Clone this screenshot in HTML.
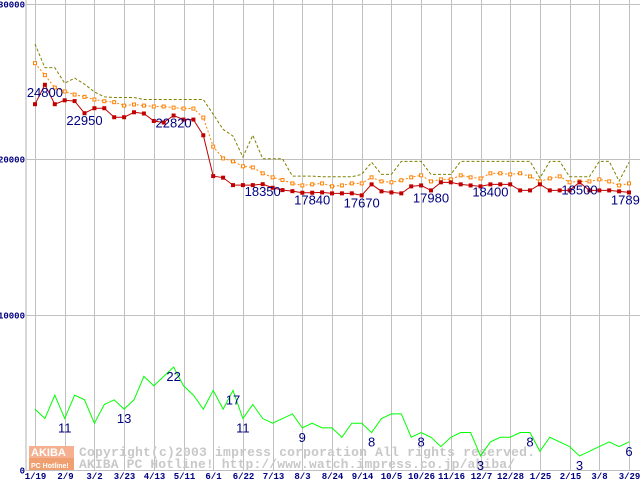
<!DOCTYPE html>
<html><head><meta charset="utf-8"><style>
html,body{margin:0;padding:0;background:#fff;width:640px;height:480px;overflow:hidden}
svg{display:block}
.tk{font-family:"Liberation Mono",monospace;font-size:9px;font-weight:bold;fill:#000080}
.lb{font-family:"Liberation Sans",sans-serif;font-size:13px;fill:#000080}
.wm{font-family:"Liberation Mono",monospace;font-size:13px;font-weight:bold;fill:#c8c8c8}
</style></head><body>
<svg id="chart" width="640" height="480">
<g id="grid"></g>
<g id="wm">
<rect x="29" y="446" width="45" height="12" fill="#f4b090"/>
<rect x="29" y="458" width="45" height="12" fill="#f0a070"/>
<text x="31" y="456" font-family="Liberation Sans,sans-serif" font-weight="bold" font-size="11" fill="#fff">AKIBA</text>
<text x="31" y="468" font-family="Liberation Sans,sans-serif" font-weight="bold" font-size="7" fill="#fff">PC Hotline!</text>
<text class="wm" x="79" y="456" textLength="456">Copyright(c)2003 impress corporation All rights reserved.</text>
<text class="wm" x="79" y="468" textLength="436">AKIBA PC Hotline!  http://www.watch.impress.co.jp/akiba/</text>
</g>
<g id="series"></g>
<g id="labels"></g>
</svg>
<script>
const xLabels=["1/19","2/9","3/2","3/23","4/13","5/11","6/1","6/22","7/13","8/3","8/24","9/14","10/5","10/26","11/16","12/7","12/28","1/25","2/15","3/8","3/29"];
const yTicks=[0,10000,20000,30000];
const maxPrice=[27420,25900,25900,24900,25230,24840,24340,24020,23980,23980,23980,23850,23850,23850,23850,23850,23850,23850,22900,21930,21500,20150,21550,20040,20040,20040,18920,18920,18920,18880,18880,18880,18880,19030,19810,19030,19030,19870,19870,19870,19030,19030,19030,19870,19870,19870,19870,19870,19870,19870,19870,18800,19870,19870,18880,18880,18880,19870,19870,18600,19810];
const avgPrice=[26190,25420,24620,24370,24170,24020,23850,23740,23680,23460,23530,23460,23400,23400,23330,23270,23270,22690,20820,20060,19870,19550,19480,19100,18840,18670,18450,18320,18390,18450,18260,18320,18450,18450,18840,18580,18520,18650,18840,18970,18580,18710,18710,18970,18840,18770,19100,19100,19030,19100,18900,18580,18770,18900,18520,18580,18580,18710,18580,18320,18450];
const minPrice=[23550,24800,23550,23800,23750,22970,23290,23290,22710,22710,23030,22950,22470,22370,22820,22560,22560,21550,18920,18820,18340,18340,18340,18400,18170,18020,17950,17850,17850,17870,17810,17810,17810,17680,18390,17940,17870,17810,18260,18320,18000,18520,18520,18390,18320,18260,18390,18390,18390,18000,18000,18390,18000,18000,18000,18520,18000,18000,18000,17940,17870];
const shopCount=[13,11,16,11,16,15,10,14,15,13,15,20,18,20,22,18,16,13,17,13,17,11,14,11,10,11,12,9,10,9,9,7,10,10,8,11,12,12,7,8,7,5,7,8,8,3,6,7,7,8,8,4,7,6,5,3,4,5,6,5,6];
const priceLabelIdx=[1,5,14,23,28,33,40,46,55,60];
const priceLabelVal=["24800","22950","22820","18350","17840","17670","17980","18400","18500","17890"];
const countLabelIdx=[3,9,14,20,21,27,34,39,45,50,55,60];
const countLabelVal=["11","13","22","17","11","9","8","8","3","8","3","6"];

const NS="http://www.w3.org/2000/svg";
const X0=35,DX=9.9,Y0=470,PY=466/30000,CY=4.68;
const xi=i=>X0+i*DX;
const yp=v=>Y0-v*PY;
const yc=c=>Y0-c*CY;
function mk(tag,attrs,parent){const e=document.createElementNS(NS,tag);for(const k in attrs)e.setAttribute(k,attrs[k]);parent.appendChild(e);return e;}
const grid=document.getElementById('grid'),ser=document.getElementById('series'),lab=document.getElementById('labels');
let e;
e=mk('line',{x1:26,y1:0,x2:26,y2:Y0,stroke:'#b0b0b0'},grid);


yTicks.forEach(t=>{
 const y=Math.round(yp(t))+0.5;
 if(t>0){const l=mk('line',{x1:26,y1:y,x2:640,y2:y,stroke:'#c0c0c0'},grid);
 
 }
 const tx=mk('text',{class:'tk',x:25,y:y+3,'text-anchor':'end'},grid);tx.textContent=String(t);
 
 
});
e=mk('line',{x1:26,y1:Y0+0.5,x2:640,y2:Y0+0.5,stroke:'#c0c0c0'},grid);


xLabels.forEach((s,k)=>{
 const x=Math.round(xi(k*3))+0.5;
 const l=mk('line',{x1:x,y1:0,x2:x,y2:Y0,stroke:'#c0c0c0'},grid);
 
 
 const t=mk('text',{class:'tk',x:x,y:479,'text-anchor':'middle'},grid);t.textContent=s;
 
 
});
function line(arr,fy,attrs,name){
 const p=mk('polyline',Object.assign({points:arr.map((v,i)=>xi(i)+','+fy(v)).join(' '),fill:'none'},attrs),ser);
 
 
}
line(maxPrice,yp,{stroke:'#808000','stroke-dasharray':'3,2'},'max-price-line');
line(avgPrice,yp,{stroke:'#ff8000','stroke-dasharray':'2,2'},'avg-price-line');
avgPrice.forEach((v,i)=>{const r=mk('rect',{x:xi(i)-1.5,y:yp(v)-1.5,width:3,height:3,fill:'#fff',stroke:'#ff8000'},ser);
 
 });
line(minPrice,yp,{stroke:'#c00000'},'min-price-line');
minPrice.forEach((v,i)=>{const r=mk('rect',{x:xi(i)-2,y:yp(v)-2,width:4,height:4,fill:'#c00000'},ser);
 
 });
line(shopCount,yc,{stroke:'#00ff00'},'shop-count-line');
priceLabelIdx.forEach((i,k)=>{const t=mk('text',{class:'lb',x:xi(i),y:yp(minPrice[i])+12,'text-anchor':'middle'},lab);t.textContent=priceLabelVal[k];
 
 });
countLabelIdx.forEach((i,k)=>{const t=mk('text',{class:'lb',x:xi(i),y:yc(shopCount[i])+14,'text-anchor':'middle'},lab);t.textContent=countLabelVal[k];
 
 });
</script>
</body></html>
